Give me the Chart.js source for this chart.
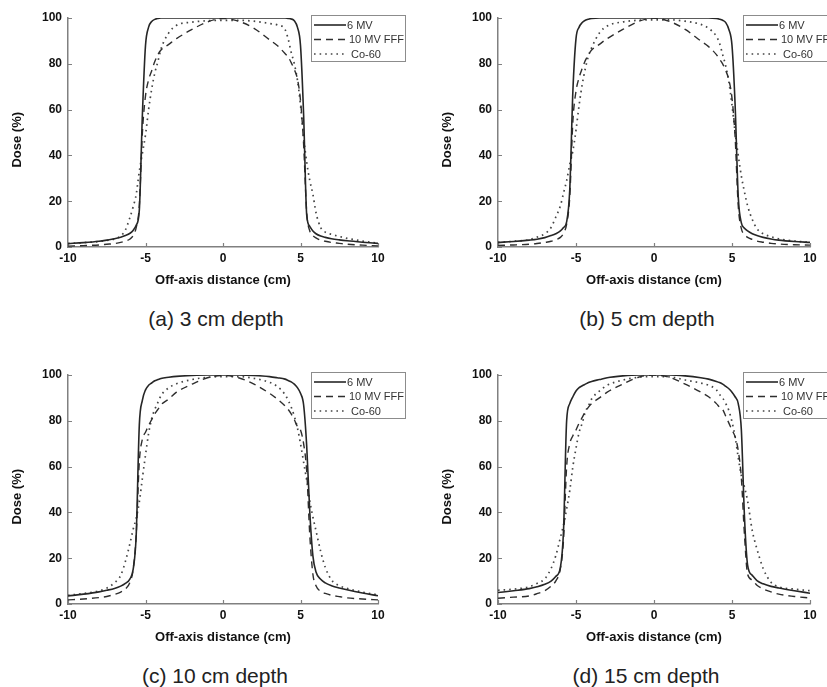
<!DOCTYPE html>
<html><head><meta charset="utf-8">
<script src="https://cdn.jsdelivr.net/npm/chart.js@4.4.0/dist/chart.umd.min.js"></script>
<style>
html,body{margin:0;padding:0;background:#fff;width:827px;height:687px;overflow:hidden;}
.wrap{position:absolute;}
.cap{position:absolute;font-family:"Liberation Sans",Arial,sans-serif;font-size:21px;line-height:24px;color:#222;text-align:center;width:320px;white-space:nowrap;}
</style></head><body>
<div class="wrap" style="left:0;top:0;"><canvas id="ca" width="410" height="300"></canvas></div>
<div class="wrap" style="left:410px;top:0;"><canvas id="cb" width="417" height="300"></canvas></div>
<div class="wrap" style="left:0;top:357px;"><canvas id="cc" width="410" height="300"></canvas></div>
<div class="wrap" style="left:410px;top:357px;"><canvas id="cd" width="417" height="300"></canvas></div>
<div class="cap" id="capA" style="left:56px;top:307px;"></div>
<div class="cap" id="capB" style="left:487px;top:307px;"></div>
<div class="cap" id="capC" style="left:55px;top:664px;"></div>
<div class="cap" id="capD" style="left:486px;top:664px;"></div>
<script>
// Off-axis positions (cm) shared by all profiles
const offAxis = [-10,-9,-8,-7.5,-7,-6.6,-6.3,-6,-5.8,-5.6,-5.4,-5.2,-5,-4.8,-4.6,-4.4,-4.2,-4,-3.5,-3,-2,-1,
  0,
  1,2,3,3.5,4,4.2,4.4,4.6,4.8,5,5.2,5.4,5.6,5.8,6,6.3,6.6,7,7.5,8,9,10];

const seriesLabels = ['6 MV', '10 MV FFF', 'Co-60'];
const panelCaptions = ['(a) 3 cm depth', '(b) 5 cm depth', '(c) 10 cm depth', '(d) 15 cm depth'];
const xTickValues = [-10, -5, 0, 5, 10];
const yTickValues = [0, 20, 40, 60, 80, 100];

// (a) 3 cm depth
const mv6_3cm = [1.5,1.9,2.5,3.0,3.6,4.3,5.0,6.0,7.2,9.5,16,58,88,96,98.5,99.4,99.8,100,100,100,100,100,
  100,
  100,100,100,100,100,99.8,99.6,98.8,96,88,58,14,9,7,5.8,4.8,4.2,3.6,3.1,2.7,2.1,1.6];
const fff_3cm = [0.4,0.6,0.9,1.2,1.5,2.0,2.6,3.5,5,8.5,18,50,66,73,77,81,84,86,88.5,91,95,98.3,
  99.8,
  98.6,95.5,90.5,88,84.5,83,80.5,77.5,73.5,64,45,15,7,5,4,3,2.5,2,1.6,1.2,0.8,0.5];
const co60_3cm = [1.5,1.9,2.4,2.9,3.5,4.8,7.4,13,17.5,23,33,41,49,60,69,76,81,86.5,93.5,96.8,98.2,98.8,
  99,
  99,98.6,97.6,97,95,91,85,80,73,62,48,37,29,23,15,8.5,6.5,5.5,4.6,3.8,2.6,1.6];

// (b) 5 cm depth
const mv6_5cm = [2.0,2.4,3.0,3.4,4.1,5.0,5.8,7.0,8.5,11,25,68,91,96,98,99,99.5,99.8,100,100,100,100,
  100,
  100,100,100,100,99.8,99.5,99,98,95,88,62,22,10.5,8.2,7,5.8,5,4.2,3.5,3,2.4,2.0];
const fff_5cm = [0.7,0.9,1.2,1.5,2,2.5,3.2,4.2,6,10,22,55,68,74,78,81.5,84,86,88.5,91,95,98.5,
  100,
  98.5,95,90,87.5,84,82,80,77,73,65,48,18,8,5.5,4.2,3.3,2.6,2.1,1.6,1.3,1.0,0.8];
const co60_5cm = [2.0,2.5,3.2,4.3,5.8,8.5,13,18,23.5,29,36,42,51,62,71,78,83.5,87,93.5,96.5,98.3,99,
  99.2,
  99.2,98.6,97.2,95.5,92,89,84,79,72,62,50,40,31,24,18,12,8,5.8,4.5,3.6,2.6,2.0];

// (c) 10 cm depth
const mv6_10cm = [3.5,4.3,5.3,6.0,6.8,7.8,9.0,11,15,30,78,89,93.5,95.5,96.5,97.5,98,98.5,99,99.4,99.8,100,
  100,
  100,99.8,99.3,98.8,98.2,97.6,97,96,94.5,92,87,69,40,21,14,10.8,9.2,8,7,6.2,4.8,3.6];
const fff_10cm = [1.8,2.2,2.8,3.3,4.2,5.2,6.5,9.5,15,30,62,72,75,78,80.5,83,85,87,89.5,92.5,96,98.8,
  99.8,
  98.8,96,92,89.5,86.5,85,83,80.5,77.5,76,70,58,30,13,8,5.5,4.6,3.8,3.2,2.7,2.2,1.8];
const co60_10cm = [3.8,4.6,5.7,6.9,9.3,12.5,18.5,26.5,32.5,37.5,44.5,55,65,74.5,81,85,88,91,94.4,96.2,98,99,
  99.3,
  99.3,98.5,96.8,95,91.5,89,86,82,77,70,62,54,45,38,32,23,16,10.5,8,6.8,5.2,4];

// (d) 15 cm depth
const mv6_15cm = [5,5.8,6.7,7.5,8.6,10,12,16,32,80,87.5,90.5,93,94.5,95.3,96,96.7,97.2,98,98.8,99.6,100,
  100,
  100,99.6,98.8,98.2,97.2,96.7,96,95,94,92.5,90.5,87.5,76,38,17,12.5,10.2,8.8,7.7,7,5.8,4.7];
const fff_15cm = [2.5,3,3.5,4.5,5.8,7.8,10,15.5,28,60,70,73.5,76,79,81.5,84,86,87.5,90,92.5,96,99,
  100,
  99,96,92.5,90.5,87.5,86,85,82,79,76,73,67,55,30,13,10.5,8.2,6.6,5.3,4.3,3.3,2.6];
const co60_15cm = [6,6.5,7.5,9,11,15.5,21,29,34.5,41.5,49.5,60,68,75,79,84,86.5,89.5,93,95.5,97.8,99,
  99.3,
  99.2,97.8,96.5,95.5,93.5,91.5,90,87.5,84.5,79.5,73,64,56,51,45,32,24,15.5,9.5,7.5,6.5,5.8];

const lineStyles = [
  {borderColor: '#262626', borderWidth: 1.6, borderDash: []},
  {borderColor: '#2e2e2e', borderWidth: 1.4, borderDash: [7, 5]},
  {borderColor: '#454545', borderWidth: 1.7, borderDash: [1.6, 4]}
];
const legendTextOffsets = [36, 38, 40];

function toPoints(values) {
  return offAxis.map((x, i) => ({x: x, y: values[i]}));
}

const FONT = '"Liberation Sans", Arial, sans-serif';

const inwardTicks = {
  id: 'inwardTicks',
  beforeDatasetsDraw(chart) {
    const ctx = chart.ctx, ca = chart.chartArea;
    const xs = chart.scales.x, ys = chart.scales.y;
    ctx.save();
    ctx.strokeStyle = '#808080';
    ctx.lineWidth = 1.2;
    ctx.beginPath();
    xs.ticks.forEach(t => {
      const px = Math.round(xs.getPixelForValue(t.value)) + 0.5;
      ctx.moveTo(px, ca.bottom); ctx.lineTo(px, ca.bottom - 4);
    });
    ys.ticks.forEach(t => {
      const py = Math.round(ys.getPixelForValue(t.value)) + 0.5;
      ctx.moveTo(ca.left, py); ctx.lineTo(ca.left + 4, py);
    });
    ctx.stroke();
    ctx.restore();
  }
};

const boxLegend = {
  id: 'boxLegend',
  afterDraw(chart) {
    const ctx = chart.ctx, ca = chart.chartArea;
    const bx = Math.round(ca.right - 67), by = Math.round(ca.top - 3), bw = 94, bh = 46;
    ctx.save();
    ctx.fillStyle = '#fff';
    ctx.fillRect(bx, by, bw, bh);
    ctx.strokeStyle = '#8c8c8c';
    ctx.lineWidth = 1;
    ctx.strokeRect(bx + 0.5, by + 0.5, bw, bh);
    chart.data.datasets.forEach((ds, i) => {
      const yy = by + 10 + i * 14.5;
      ctx.strokeStyle = ds.borderColor;
      ctx.lineWidth = ds.borderWidth;
      ctx.setLineDash(ds.borderDash || []);
      ctx.beginPath();
      ctx.moveTo(bx + 3, yy); ctx.lineTo(bx + 35, yy);
      ctx.stroke();
      ctx.setLineDash([]);
      ctx.fillStyle = '#333';
      ctx.font = '11px ' + FONT;
      ctx.textBaseline = 'middle';
      ctx.textAlign = 'left';
      ctx.fillText(ds.label, bx + legendTextOffsets[i], yy + 0.5);
    });
    ctx.restore();
  }
};

function makeChart(canvasId, seriesList, padLeft, padRight) {
  const datasets = seriesList.map((vals, i) => ({
    label: seriesLabels[i],
    data: toPoints(vals),
    borderColor: lineStyles[i].borderColor,
    borderWidth: lineStyles[i].borderWidth,
    borderDash: lineStyles[i].borderDash,
    pointRadius: 0,
    fill: false,
    cubicInterpolationMode: 'monotone'
  }));
  return new Chart(document.getElementById(canvasId), {
    type: 'line',
    data: {datasets: datasets},
    plugins: [inwardTicks, boxLegend],
    options: {
      responsive: false,
      animation: false,
      events: [],
      layout: {padding: {left: padLeft, right: padRight, top: 18, bottom: 0}},
      plugins: {legend: {display: false}, tooltip: {enabled: false}},
      scales: {
        x: {
          type: 'linear', min: -10, max: 10,
          afterBuildTicks: s => { s.ticks = xTickValues.map(v => ({value: v})); },
          afterFit: s => { s.height = 53; },
          grid: {display: false, drawTicks: false},
          border: {display: true, color: '#808080', width: 1.5},
          ticks: {color: '#111', padding: 4, maxRotation: 0, autoSkip: false,
                  font: {family: FONT, size: 12, weight: 'bold'}},
          title: {display: true, text: 'Off-axis distance (cm)', color: '#111',
                  font: {family: FONT, size: 13, weight: 'bold'}, padding: {top: 0, bottom: 12}}
        },
        y: {
          type: 'linear', min: 0, max: 100,
          afterBuildTicks: s => { s.ticks = yTickValues.map(v => ({value: v})); },
          afterFit: s => { s.width = 68; },
          grid: {display: false, drawTicks: false},
          border: {display: true, color: '#808080', width: 1.5},
          ticks: {color: '#111', padding: 6, autoSkip: false,
                  font: {family: FONT, size: 12, weight: 'bold'}},
          title: {display: true, text: 'Dose (%)\u00a0\u00a0\u00a0\u00a0', color: '#111',
                  font: {family: FONT, size: 13, weight: 'bold'}, padding: {top: 10, bottom: 0}}
        }
      }
    }
  });
}

makeChart('ca', [mv6_3cm, fff_3cm, co60_3cm], 0, 32);
makeChart('cb', [mv6_5cm, fff_5cm, co60_5cm], 20, 17);
makeChart('cc', [mv6_10cm, fff_10cm, co60_10cm], 0, 32);
makeChart('cd', [mv6_15cm, fff_15cm, co60_15cm], 20, 17);

document.getElementById('capA').textContent = panelCaptions[0];
document.getElementById('capB').textContent = panelCaptions[1];
document.getElementById('capC').textContent = panelCaptions[2];
document.getElementById('capD').textContent = panelCaptions[3];
</script>
</body></html>
